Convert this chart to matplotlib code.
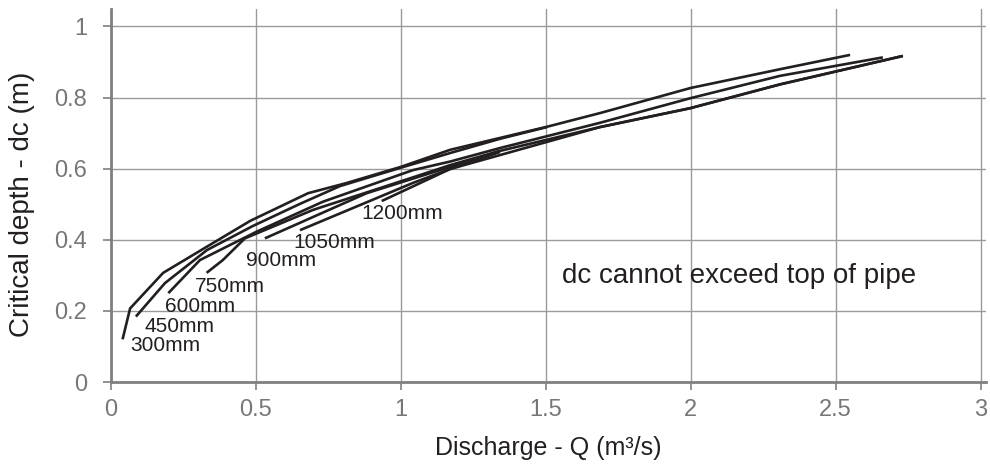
import matplotlib
matplotlib.use('Agg')
import matplotlib.pyplot as plt

plt.rcParams['font.family'] = ['Liberation Sans', 'DejaVu Sans']

# discharge Q (m3/s) and critical depth dc (m), one pair of lists per pipe size
q300 = [0.04, 0.066, 0.18, 0.34, 0.48, 0.68, 0.81, 1.0, 1.17, 1.34, 1.50, 1.69, 2.0, 2.31, 2.55]
dc300 = [0.12, 0.207, 0.307, 0.385, 0.453, 0.531, 0.559, 0.605, 0.653, 0.686, 0.717, 0.757, 0.827, 0.88, 0.92]

q450 = [0.086, 0.186, 0.331, 0.49, 0.652, 0.79, 0.997, 1.17, 1.342, 1.504]
dc450 = [0.184, 0.278, 0.371, 0.439, 0.501, 0.551, 0.602, 0.644, 0.684, 0.717]

q600 = [0.198, 0.307, 0.503, 0.731, 1.042, 1.17, 1.342, 1.687, 1.998, 2.308, 2.663]
dc600 = [0.25, 0.343, 0.423, 0.507, 0.596, 0.62, 0.658, 0.729, 0.798, 0.861, 0.913]

q750 = [0.33, 0.386, 0.462, 0.697, 1.066, 1.17, 1.342, 1.687, 1.998, 2.308, 2.732]
dc750 = [0.307, 0.343, 0.404, 0.484, 0.582, 0.61, 0.65, 0.717, 0.77, 0.837, 0.917]

q900 = [0.531, 0.882, 1.17, 1.342]
dc900 = [0.404, 0.531, 0.605, 0.65]

q1050 = [0.652, 1.042, 1.17, 1.342]
dc1050 = [0.427, 0.56, 0.599, 0.647]

q1200 = [0.934, 1.17, 1.687, 1.998, 2.308, 2.732]
dc1200 = [0.509, 0.599, 0.717, 0.77, 0.837, 0.917]

labels = ['300mm', '450mm', '600mm', '750mm', '900mm', '1050mm', '1200mm']
label_q = [0.066, 0.117, 0.186, 0.29, 0.466, 0.628, 0.865]
label_dc = [0.102, 0.155, 0.211, 0.27, 0.343, 0.391, 0.475]

xticks = [0, 0.5, 1, 1.5, 2, 2.5, 3]
xticklabels = ['0', '0.5', '1', '1.5', '2', '2.5', '3']
yticks = [0, 0.2, 0.4, 0.6, 0.8, 1]
yticklabels = ['0', '0.2', '0.4', '0.6', '0.8', '1']

fig = plt.figure(figsize=(9.9, 4.69), dpi=100)
ax = fig.add_axes([0.1121, 0.1855, 0.8842, 0.796])

curves = [(q300, dc300), (q450, dc450), (q600, dc600), (q750, dc750),
          (q900, dc900), (q1050, dc1050), (q1200, dc1200)]
for q, dc in curves:
    ax.plot(q, dc, color='#231f20', lw=1.9, solid_capstyle='butt', zorder=3)

for t, x, y in zip(labels, label_q, label_dc):
    ax.text(x, y, t, fontsize=15, color='#231f20', va='center', ha='left', zorder=4)

ax.text(1.555, 0.298, 'dc cannot exceed top of pipe', fontsize=20,
        color='#231f20', va='center', ha='left', zorder=4)

ax.set_xlim(0, 3.02)
ax.set_ylim(0, 1.05)
ax.set_xticks(xticks)
ax.set_xticklabels(xticklabels)
ax.set_yticks(yticks)
ax.set_yticklabels(yticklabels)
ax.grid(True, color='#9a9a9a', lw=1.0)
ax.set_axisbelow(True)

for s in ['top', 'right']:
    ax.spines[s].set_visible(False)
for s in ['left', 'bottom']:
    ax.spines[s].set_color('#808080')
    ax.spines[s].set_linewidth(2)

ax.tick_params(axis='both', colors='#808080', labelcolor='#777777',
               labelsize=17, length=6, width=1.2)
ax.tick_params(axis='x', pad=6)
ax.tick_params(axis='y', pad=11)

ax.set_xlabel('Discharge - Q (m³/s)', fontsize=18, color='#231f20')
ax.set_ylabel('Critical depth - dc (m)', fontsize=20, color='#231f20')
ax.xaxis.set_label_coords(0.5, -0.145)
ax.yaxis.set_label_coords(-0.087, 0.476)

fig.savefig('out.png', dpi=100)
